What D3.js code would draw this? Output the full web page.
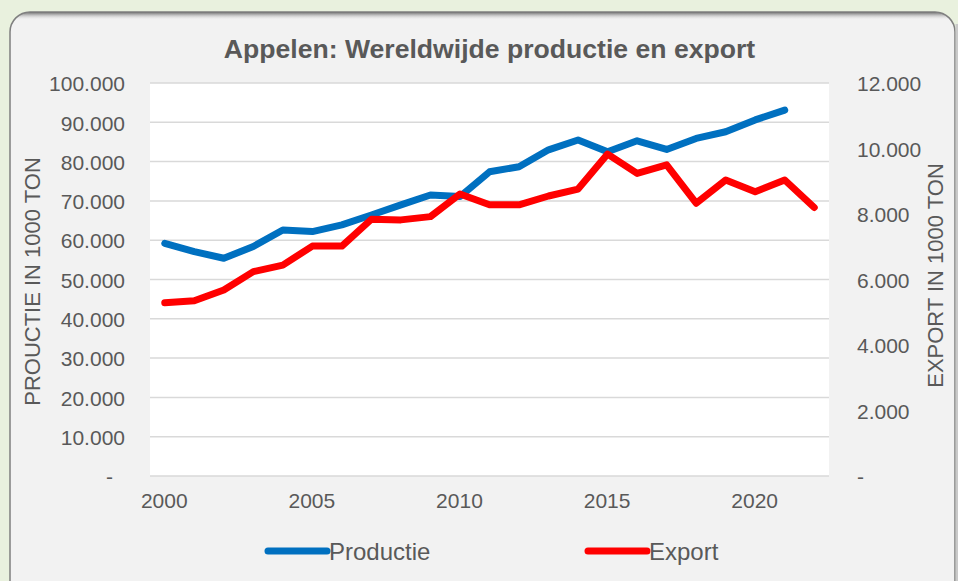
<!DOCTYPE html>
<html lang="nl">
<head>
    <meta charset="UTF-8">
    <title>Appelen: Wereldwijde productie en export</title>
    <script src="https://d3js.org/d3.v7.min.js"></script>
    <style>
        html, body {
            margin: 0;
            padding: 0;
            background: #e9f1de;
        }
        svg {
            display: block;
            font-family: "Liberation Sans", Arial, sans-serif;
        }
        .tick text {
            fill: #595959;
        }
    </style>
</head>
<body>
    <div id="container"></div>

    <script>
        // data
        const years = [2000, 2001, 2002, 2003, 2004, 2005, 2006, 2007, 2008, 2009, 2010,
                       2011, 2012, 2013, 2014, 2015, 2016, 2017, 2018, 2019, 2020, 2021, 2022];
        const productie = [59200, 57100, 55400, 58400, 62600, 62200, 63900, 66400, 69000, 71500, 71100,
                           77400, 78700, 83000, 85500, 82500, 85300, 83100, 85900, 87600, 90600, 93100, null];
        const exportData = [5290, 5350, 5680, 6240, 6440, 7020, 7020, 7840, 7820, 7920, 8610,
                            8280, 8280, 8550, 8760, 9830, 9240, 9500, 8330, 9040, 8680, 9040, 8200];
        const leftTicks = [0, 10000, 20000, 30000, 40000, 50000, 60000, 70000, 80000, 90000, 100000];
        const rightTicks = [0, 2000, 4000, 6000, 8000, 10000, 12000];
        const xTicks = [2000, 2005, 2010, 2015, 2020];

        const width = 958, height = 581;
        const plot = {left: 150, right: 829, top: 83, bottom: 476};
        const textColor = '#595959';

        // dutch number format: 100.000, zero as "-"
        const nl = d3.formatLocale({decimal: ',', thousands: '.', grouping: [3], currency: ['', '']});
        const fmt = v => v === 0 ? '-' : nl.format(',')(v);

        const svg = d3.select('#container').append('svg')
            .attr('width', width)
            .attr('height', height);

        const defs = svg.append('defs');
        const shade = defs.append('linearGradient')
            .attr('id', 'topShade')
            .attr('x1', 0).attr('y1', 0).attr('x2', 0).attr('y2', 1);
        shade.append('stop').attr('offset', '0%').attr('stop-color', '#666666').attr('stop-opacity', 1);
        shade.append('stop').attr('offset', '100%').attr('stop-color', '#f2f2f2').attr('stop-opacity', 0);

        defs.append('clipPath').attr('id', 'panelClip')
            .append('rect')
            .attr('x', 10).attr('y', 12)
            .attr('width', 945).attr('height', 590)
            .attr('rx', 20);

        //panel with rounded border
        svg.append('rect')
            .attr('x', 10).attr('y', 12)
            .attr('width', 945).attr('height', 590)
            .attr('rx', 20)
            .attr('fill', '#f2f2f2');

        svg.append('rect')
            .attr('clip-path', 'url(#panelClip)')
            .attr('x', 10).attr('y', 12)
            .attr('width', 945).attr('height', 8)
            .attr('fill', 'url(#topShade)');

        svg.append('rect')
            .attr('x', 10).attr('y', 12)
            .attr('width', 945).attr('height', 590)
            .attr('rx', 20)
            .attr('fill', 'none')
            .attr('stroke', '#7f7f7f')
            .attr('stroke-width', 1.5);

        // right edge shadow
        svg.append('rect')
            .attr('x', 955.5).attr('y', 24)
            .attr('width', 3).attr('height', 560)
            .attr('fill', '#c9c9c9');

        //scales
        const x = d3.scalePoint()
            .domain(years)
            .range([plot.left, plot.right])
            .padding(0.5);

        const yLeft = d3.scaleLinear()
            .domain([0, 100000])
            .range([plot.bottom, plot.top]);

        const yRight = d3.scaleLinear()
            .domain([0, 12000])
            .range([plot.bottom, plot.top]);

        //plot area
        svg.append('rect')
            .attr('x', plot.left).attr('y', plot.top)
            .attr('width', plot.right - plot.left)
            .attr('height', plot.bottom - plot.top)
            .attr('fill', '#ffffff');

        //gridlines
        svg.append('g')
            .selectAll('line')
            .data(leftTicks)
            .enter()
            .append('line')
            .attr('x1', plot.left)
            .attr('x2', plot.right)
            .attr('y1', d => yLeft(d))
            .attr('y2', d => yLeft(d))
            .attr('stroke', '#d9d9d9')
            .attr('stroke-width', 1.5);

        //left axis
        const leftAxis = svg.append('g')
            .attr('transform', `translate(${plot.left - 25},1)`)
            .call(d3.axisLeft(yLeft).tickValues(leftTicks).tickFormat(fmt).tickSize(0).tickPadding(0));
        leftAxis.select('.domain').remove();
        leftAxis.selectAll('text')
            .attr('font-size', 21)
            .attr('font-family', '"Liberation Sans", Arial, sans-serif')
            .attr('dx', d => d === 0 ? -12 : 0);

        //right axis
        const rightAxis = svg.append('g')
            .attr('transform', `translate(${plot.right + 28},1)`)
            .call(d3.axisRight(yRight).tickValues(rightTicks).tickFormat(fmt).tickSize(0).tickPadding(0));
        rightAxis.select('.domain').remove();
        rightAxis.selectAll('text')
            .attr('font-size', 21)
            .attr('font-family', '"Liberation Sans", Arial, sans-serif');

        //x axis
        const bottomAxis = svg.append('g')
            .attr('transform', `translate(-1,${plot.bottom + 17})`)
            .call(d3.axisBottom(x).tickValues(xTicks).tickSize(0).tickPadding(0));
        bottomAxis.select('.domain').remove();
        bottomAxis.selectAll('text')
            .attr('font-size', 21)
            .attr('font-family', '"Liberation Sans", Arial, sans-serif');

        //axis titles
        svg.append('text')
            .attr('transform', `translate(40,${(plot.top + plot.bottom) / 2 + 2}) rotate(-90)`)
            .attr('text-anchor', 'middle')
            .attr('font-size', 22)
            .attr('fill', textColor)
            .text('PROUCTIE IN 1000 TON');

        svg.append('text')
            .attr('transform', `translate(943,${(plot.top + plot.bottom) / 2 - 4}) rotate(-90)`)
            .attr('text-anchor', 'middle')
            .attr('font-size', 22)
            .attr('fill', textColor)
            .text('EXPORT IN 1000 TON');

        //title
        svg.append('text')
            .attr('x', 489.5)
            .attr('y', 58)
            .attr('text-anchor', 'middle')
            .attr('font-size', 26.6)
            .attr('font-weight', 'bold')
            .attr('fill', textColor)
            .text('Appelen: Wereldwijde productie en export');

        //lines
        const series = [
            {name: 'Productie', values: productie, scale: yLeft, color: '#0070c0'},
            {name: 'Export', values: exportData, scale: yRight, color: '#ff0000'}
        ];

        series.forEach(s => {
            const line = d3.line()
                .defined(d => d.v !== null)
                .x(d => x(d.year))
                .y(d => s.scale(d.v));

            svg.append('path')
                .datum(years.map((year, i) => ({year: year, v: s.values[i]})))
                .attr('d', line)
                .attr('fill', 'none')
                .attr('stroke', s.color)
                .attr('stroke-width', 7)
                .attr('stroke-linecap', 'round')
                .attr('stroke-linejoin', 'round');
        });

        //legend
        const legendX = [268, 588];
        const legend = svg.selectAll('.legend')
            .data(series)
            .enter()
            .append('g')
            .attr('class', 'legend')
            .attr('transform', (d, i) => `translate(${legendX[i]},551)`);

        legend.append('line')
            .attr('x1', 0).attr('x2', 59)
            .attr('y1', 0).attr('y2', 0)
            .attr('stroke', d => d.color)
            .attr('stroke-width', 7)
            .attr('stroke-linecap', 'round');

        legend.append('text')
            .attr('x', 61)
            .attr('y', 8.5)
            .attr('font-size', 24)
            .attr('fill', textColor)
            .text(d => d.name);
    </script>
</body>
</html>
